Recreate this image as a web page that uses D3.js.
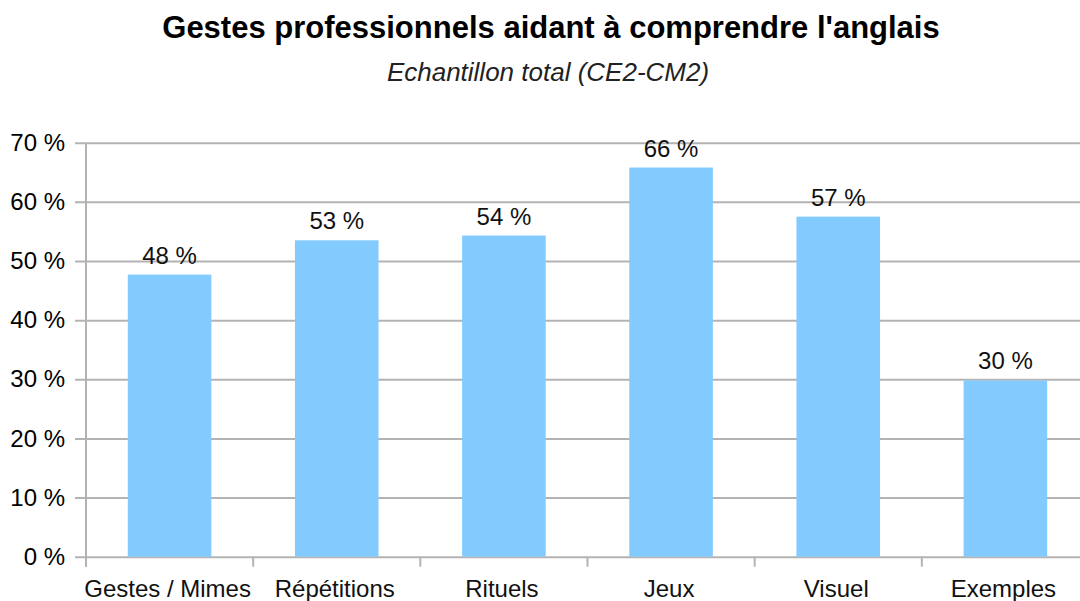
<!DOCTYPE html>
<html>
<head>
<meta charset="utf-8">
<script src="https://cdn.jsdelivr.net/npm/d3@7"></script>
<style>
  body { margin: 0; background: #fff; }
  text { font-family: "Liberation Sans", Arial, sans-serif; fill: #000; }
</style>
</head>
<body>
<div id="viz"></div>
<script>
const categories = ['Gestes / Mimes', 'Répétitions', 'Rituels', 'Jeux', 'Visuel', 'Exemples'];
const values = [47.7, 53.5, 54.3, 65.8, 57.5, 29.8];
const valueLabels = ['48 %', '53 %', '54 %', '66 %', '57 %', '30 %'];
const yTicks = [0, 10, 20, 30, 40, 50, 60, 70];

const width = 1080;
const height = 601;
const margin = {top: 142.7, right: -9, bottom: 44.3, left: 86};

const svg = d3.select('#viz')
  .append('svg')
    .attr('width', width)
    .attr('height', height);

// Scales
const x = d3.scaleBand()
  .domain(categories)
  .range([margin.left, width - margin.right])
  .paddingInner(0.5)
  .paddingOuter(0.25);
const y = d3.scaleLinear()
  .domain([0, 70])
  .range([height - margin.bottom, margin.top]);

const step = x.step();
const gridColor = '#b3b3b3';

// Title
svg.append('text')
    .attr('x', 551)
    .attr('y', 38)
    .attr('text-anchor', 'middle')
    .style('font-size', '31px')
    .style('font-weight', 'bold')
    .text('Gestes professionnels aidant à comprendre l\'anglais');
svg.append('text')
    .attr('x', 548)
    .attr('y', 81)
    .attr('text-anchor', 'middle')
    .style('font-size', '26px')
    .style('font-style', 'italic')
    .style('fill', '#222')
    .text('Echantillon total (CE2-CM2)');

// Gridlines + y labels
const yAxis = svg.append('g')
    .attr('transform', `translate(${margin.left}, 0)`)
  .call(d3.axisLeft(y)
    .tickValues(yTicks)
    .tickSize(-(width - margin.right - margin.left))
    .tickSizeOuter(0)
    .tickPadding(21)
    .tickFormat(d => `${d} %`));
yAxis.select('.domain').remove();
yAxis.selectAll('.tick line')
    .attr('x1', -11)
    .attr('stroke', gridColor)
    .attr('stroke-width', 2);
yAxis.selectAll('.tick text')
    .style('font-size', '24px')
    .style('font-family', '"Liberation Sans", Arial, sans-serif')
    .attr('fill', '#111');

// Bars
svg.append('g')
  .selectAll('rect')
  .data(categories)
  .join('rect')
    .attr('x', d => x(d))
    .attr('y', (d, i) => y(values[i]))
    .attr('width', x.bandwidth())
    .attr('height', (d, i) => y(0) - y(values[i]))
    .attr('fill', '#83caff');

// Value labels
svg.append('g')
  .selectAll('text')
  .data(categories)
  .join('text')
    .attr('x', d => x(d) + x.bandwidth() / 2)
    .attr('y', (d, i) => y(values[i]) - 11)
    .attr('text-anchor', 'middle')
    .style('font-size', '24px')
    .style('fill', '#111')
    .text((d, i) => valueLabels[i]);

// Y axis line
svg.append('line')
    .attr('x1', margin.left)
    .attr('x2', margin.left)
    .attr('y1', y(70))
    .attr('y2', y(0) + 10)
    .attr('stroke', gridColor)
    .attr('stroke-width', 2);

// X axis ticks at band boundaries
const boundaries = d3.range(categories.length + 1).map(i => margin.left + i * step);
svg.append('g')
  .selectAll('line')
  .data(boundaries)
  .join('line')
    .attr('x1', d => d)
    .attr('x2', d => d)
    .attr('y1', y(0))
    .attr('y2', y(0) + 10)
    .attr('stroke', gridColor)
    .attr('stroke-width', 2);

// Category labels
svg.append('g')
  .selectAll('text')
  .data(categories)
  .join('text')
    .attr('x', d => x(d) + x.bandwidth() / 2 - 2)
    .attr('y', y(0) + 40)
    .attr('text-anchor', 'middle')
    .style('font-size', '24px')
    .style('fill', '#111')
    .text(d => d);
</script>
</body>
</html>
